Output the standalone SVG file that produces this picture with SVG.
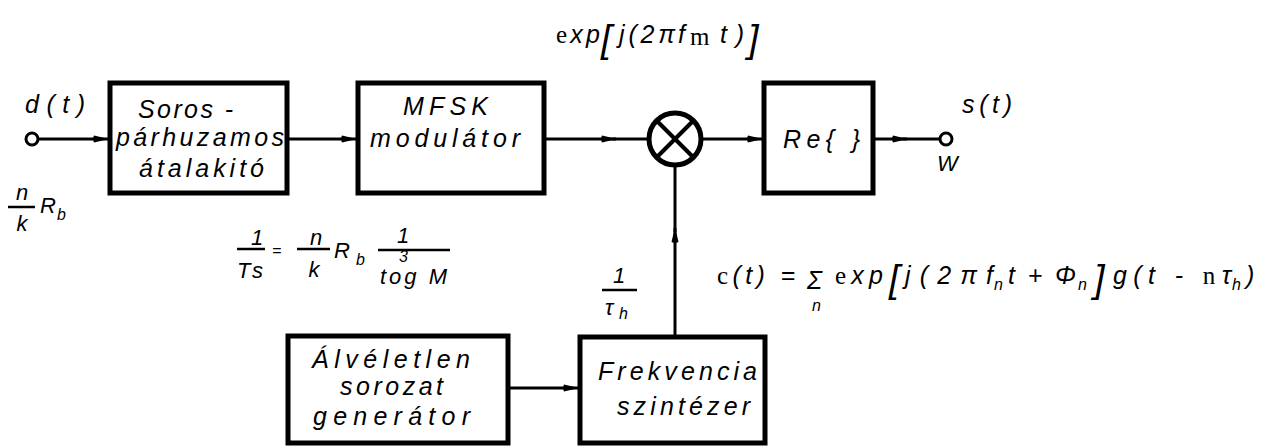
<svg xmlns="http://www.w3.org/2000/svg" width="1280" height="446" viewBox="0 0 1280 446">
<style>
.box{fill:#fff;stroke:#000;stroke-width:5}
.ln{stroke:#000;stroke-width:3;fill:none}
.bar{stroke:#000;stroke-width:2.5}
.t{font-family:"Liberation Sans",Arial,sans-serif;font-style:italic;font-size:25px;fill:#000}
.m{font-family:"Liberation Sans",Arial,sans-serif;font-style:italic;font-size:22px;fill:#000}
.sub{font-family:"Liberation Sans",Arial,sans-serif;font-style:italic;font-size:16px;fill:#000}
.sr{font-family:"Liberation Serif","Times New Roman",serif;font-style:normal}
.br{font-family:"Liberation Sans",Arial,sans-serif;font-style:italic;font-size:38px;fill:#000}
</style>
<defs>
<marker id="ah" markerUnits="userSpaceOnUse" markerWidth="17" markerHeight="10" refX="15" refY="5" orient="auto">
<path d="M1,1.5 L16,5 L1,8.5 Q-1,5 1,1.5 z" fill="#000"/>
</marker>
</defs>

<g id="connectors">
<path class="ln" d="M38,139 H108" marker-end="url(#ah)"/>
<path class="ln" d="M287,139 H356" marker-end="url(#ah)"/>
<path class="ln" d="M544,139 H616" marker-end="url(#ah)"/>
<path class="ln" d="M612,139 H649"/>
<path class="ln" d="M701,139 H762" marker-end="url(#ah)"/>
<path class="ln" d="M873,139 H907" marker-end="url(#ah)"/>
<path class="ln" d="M903,139 H940"/>
<path class="ln" d="M675,335 V228" marker-end="url(#ah)"/>
<path class="ln" d="M675,232 V165"/>
<path class="ln" d="M508,388 H578" marker-end="url(#ah)"/>
</g>

<g id="input">
<circle cx="32" cy="139" r="6" fill="#fff" stroke="#000" stroke-width="3"/>
<text class="t" x="25" y="113" textLength="60">d(t)</text>
<text class="m" x="22" y="200" text-anchor="middle">n</text>
<line class="bar" x1="8" y1="207" x2="35" y2="207"/>
<text class="m" x="22" y="231" text-anchor="middle">k</text>
<text class="m" x="40" y="213">R</text>
<text class="sub" x="57" y="220">b</text>
</g>

<g id="soros">
<rect class="box" x="110" y="83" width="177" height="110"/>
<text class="t" x="138" y="118" textLength="95">Soros -</text>
<text class="t" x="116" y="146" textLength="168">párhuzamos</text>
<text class="t" x="139" y="177" textLength="125">átalakitó</text>
</g>

<g id="rate">
<text class="m" x="257" y="245" text-anchor="middle">1</text>
<line class="bar" x1="237" y1="249" x2="265" y2="249"/>
<text class="m" x="237" y="278" textLength="26">Ts</text>
<text class="sub" x="272" y="256">=</text>
<text class="m" x="316" y="245" text-anchor="middle">n</text>
<line class="bar" x1="297" y1="249" x2="330" y2="249"/>
<text class="m" x="314" y="277" text-anchor="middle">k</text>
<text class="m" x="334" y="258">R</text>
<text class="sub" x="356" y="265">b</text>
<text class="m" x="403" y="243" text-anchor="middle">1</text>
<line class="bar" x1="378" y1="250" x2="450" y2="250"/>
<text class="sub" x="399" y="262" font-size="11">3</text>
<text class="m" x="380" y="284" font-size="20" textLength="67">tog M</text>
</g>

<g id="mfsk">
<rect class="box" x="358" y="83" width="186" height="110"/>
<text class="t" x="403" y="115" textLength="85">MFSK</text>
<text class="t" x="370" y="147" textLength="150">modulátor</text>
</g>

<g id="carrier">
<text class="t" x="556" y="43" textLength="44"><tspan class="sr">e</tspan>xp</text>
<text class="br" x="601" y="52">[</text>
<text class="t" x="619" y="43" textLength="56">j(2π</text>
<text class="t" x="678" y="43">f</text>
<text class="t sr" x="690" y="45" font-size="23">m</text>
<text class="t" x="720" y="43" textLength="24">t)</text>
<text class="br" x="748" y="52">]</text>
</g>

<g id="mixer">
<circle cx="675" cy="139" r="26" fill="#fff" stroke="#000" stroke-width="5"/>
<line x1="657" y1="121" x2="693" y2="157" stroke="#000" stroke-width="4"/>
<line x1="693" y1="121" x2="657" y2="157" stroke="#000" stroke-width="4"/>
</g>

<g id="re">
<rect class="box" x="764" y="83" width="109" height="110"/>
<text class="t" x="783" y="148" textLength="77">Re{ }</text>
</g>

<g id="output">
<circle cx="946" cy="139" r="6" fill="#fff" stroke="#000" stroke-width="3"/>
<text class="t" x="962" y="113" textLength="50">s(t)</text>
<text class="m" x="937" y="171" font-size="20">W</text>
</g>

<g id="tau">
<text class="m" x="619" y="283" text-anchor="middle">1</text>
<line class="bar" x1="602" y1="290" x2="637" y2="290"/>
<text class="m" x="605" y="315">τ</text>
<text class="sub" x="619" y="319">h</text>
</g>

<g id="ct">
<text class="t" x="717" y="284" textLength="78"><tspan class="sr">c</tspan>(t) =</text>
<text class="t" x="807" y="289" font-size="32" font-style="normal">Σ</text>
<text class="sub" x="812" y="311">n</text>
<text class="t" x="835" y="284" textLength="48"><tspan class="sr">e</tspan>xp</text>
<text class="br" x="889" y="292" font-size="36">[</text>
<text class="t" x="905" y="284" textLength="88">j(2πf</text>
<text class="sub" x="994" y="290">n</text>
<text class="t" x="1008" y="284" textLength="68">t + Φ</text>
<text class="sub" x="1078" y="290">n</text>
<text class="br" x="1094" y="292" font-size="36">]</text>
<text class="t" x="1113" y="284" textLength="118">g(t - <tspan class="sr">n</tspan>τ</text>
<text class="sub" x="1232" y="290">h</text>
<text class="t" x="1246" y="284">)</text>
</g>

<g id="alveletlen">
<rect class="box" x="288" y="336" width="220" height="107"/>
<text class="t" x="312" y="368" textLength="158">Álvéletlen</text>
<text class="t" x="340" y="395" textLength="103">sorozat</text>
<text class="t" x="313" y="425" textLength="157">generátor</text>
</g>

<g id="frekvencia">
<rect class="box" x="580" y="337" width="185" height="106"/>
<text class="t" x="598" y="380" textLength="159">Frekvencia</text>
<text class="t" x="617" y="415" textLength="133">szintézer</text>
</g>
</svg>
